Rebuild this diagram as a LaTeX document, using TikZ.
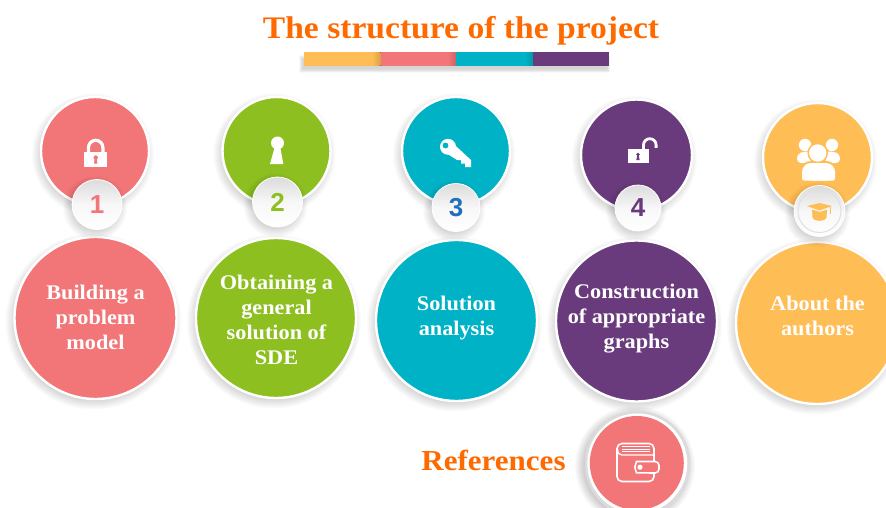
\documentclass[tikz,border=0pt]{standalone}
\usepackage{fontspec}
\setmainfont{Liberation Serif}[FakeStretch=1.07]
\newfontfamily\digitfont{Liberation Sans}
\usetikzlibrary{calc}
\definecolor{cPink}{HTML}{F27577}
\definecolor{cGreen}{HTML}{8CBF1F}
\definecolor{cTeal}{HTML}{00B2C6}
\definecolor{cPurple}{HTML}{6A3B7C}
\definecolor{cYellow}{HTML}{FFBD55}
\definecolor{cOrange}{HTML}{FF6A00}
\definecolor{cBlue}{HTML}{1F6FBB}
\tikzset{
  disc/.style={circle,draw=white,line width=2.4pt,inner sep=0pt},
  disctext/.style={inner sep=0pt,align=center,text=white,font=\fontsize{20.8}{25}\selectfont\bfseries},
  badge/.style={circle,draw=white,line width=0.8pt,inner sep=0pt,top color=black!14,bottom color=white,middle color=black!3,font=\fontsize{26}{26}\selectfont\digitfont\bfseries},
  heading/.style={text=cOrange,inner sep=0pt,font=\bfseries}
}
\newcommand{\softshadow}[3]{%
  \foreach \k in {0,...,9}{
    \fill[black,opacity=0.016] (#1-2,#2+3.5) circle ({#3+7-\k});
  }}
\newcommand{\disk}[5]{% name,x,y,r,colour
  \softshadow{#2}{#3}{#4}
  \node[disc,fill=#5,minimum size=#4*2pt] (#1) at (#2,#3) {};}
\newcommand{\smallbadge}[6]{% name,x,y,r,colour,text
  \softshadow{#2}{#3}{#4}
  \node[badge,text=#5,minimum size=#4*2pt] (#1) at (#2,#3) {#6};}
\begin{document}
\begin{tikzpicture}[x=1pt,y=-1pt]
\useasboundingbox (0,0) rectangle (886,508);
\fill[white] (0,0) rectangle (886,508);
% title
\node[heading,font=\fontsize{31.4}{31}\selectfont\bfseries] (title) at (461,31) {The structure of the project};
% bar
\foreach \k in {0,...,6}{
  \fill[black,opacity=0.025] (299+\k*0.6,55+\k*0.6) rectangle (610-\k*0.5,73-\k*0.6);
}
\fill[cYellow] (304,52.5) rectangle (380.5,66);
\fill[left color=cYellow,right color=cYellow!85!black] (372,52.5) rectangle (380.5,66);
\fill[cPink] (380.5,52.5) rectangle (456,66);
\fill[left color=cPink,right color=cPink!85!black] (448,52.5) rectangle (456,66);
\fill[cTeal] (456,52.5) rectangle (533,66);
\fill[left color=cTeal,right color=cTeal!85!black] (525,52.5) rectangle (533,66);
\fill[cPurple] (533,52.5) rectangle (608.7,66);
% upper discs
\disk{topA}{95}{151}{54}{cPink}
\disk{topB}{276.5}{151}{54}{cGreen}
\disk{topC}{456}{151}{54}{cTeal}
\disk{topD}{636.5}{155}{55.5}{cPurple}
\disk{topE}{817.5}{157.5}{54.5}{cYellow}
% lower discs
\disk{lowA}{95.5}{318}{81}{cPink}
\disk{lowB}{276}{318}{80}{cGreen}
\disk{lowC}{456.5}{320.5}{80.5}{cTeal}
\disk{lowD}{636.5}{321}{80.5}{cPurple}
\disk{lowE}{817}{323}{81}{cYellow}
\node[disctext] (txtA) at (95.5,317) {Building a\\problem\\model};
\node[disctext] (txtB) at (276.5,320) {Obtaining a\\general\\solution of\\SDE};
\node[disctext] (txtC) at (456.5,318.5) {Solution\\analysis};
\node[disctext] (txtD) at (636.5,319) {Construction\\of appropriate\\graphs};
\node[disctext] (txtE) at (817.5,315.5) {About the\\authors};
% badges
\smallbadge{numA}{97}{204.5}{25}{cPink}{1}
\smallbadge{numB}{277.5}{202}{25}{cGreen}{2}
\smallbadge{numC}{456}{207.5}{24}{cBlue}{3}
\smallbadge{numD}{638}{208}{23}{cPurple}{4}
\smallbadge{numE}{819.5}{211}{25.5}{cYellow}{}
\draw[black!12,line width=1pt] (numE) circle (21.5);
% icon 1: lock
\fill[white] (84,152) rectangle (107,167);
\draw[white,line width=3.2pt] (88.5,152) -- (88.5,147.5) arc[start angle=180,end angle=360,radius=7.2] -- (102.9,152);
\fill[cPink] (95.7,157.5) circle (2.2);
\fill[cPink] (94.8,158) -- (96.6,158) -- (97.4,163.5) -- (94,163.5) -- cycle;
% icon 2: keyhole
\fill[white] (277.5,143) circle (6.5);
\fill[white] (275,146) -- (280,146) -- (283.3,164) -- (270,164) -- cycle;
% icon 3: key
\fill[white] (448,146.8) circle (8);
\fill[white] (452,142.5) -- (471,160) -- (471,167) -- (465,167) -- (465,163.5) -- (461,163.5) -- (461,160) -- (457,160) -- (446,153) -- cycle;
\fill[cTeal] (445.5,145.5) circle (2.9);
% icon 4: open lock
\fill[white] (628,149) rectangle (649,163);
\draw[white,line width=2.8pt] (643.5,149) -- (643.5,145) arc[start angle=180,end angle=360,radius=6.3] -- (656.1,148);
\fill[cPurple] (638,154.5) circle (1.9);
\fill[cPurple] (637.3,155) -- (638.7,155) -- (639.6,160) -- (636.4,160) -- cycle;
% icon 5: people
\fill[white] (805,145) circle (6.2);
\fill[white] (832,145) circle (6.2);
\fill[white,rounded corners=4pt] (797,163) -- (797,154) -- (804,151.5) -- (812,151.5) -- (812,163) -- cycle;
\fill[white,rounded corners=4pt] (840,163) -- (840,154) -- (833,151.5) -- (825,151.5) -- (825,163) -- cycle;
\fill[cYellow] (817.7,153) circle (10.3);
\fill[cYellow,rounded corners=10pt] (800.5,161) rectangle (836.5,182);
\fill[white] (817.7,153) circle (8.7);
\fill[white,rounded corners=9pt] (802,163) rectangle (835,180.5);
\fill[white,rounded corners=2pt] (802,170) rectangle (835,180.5);
% icon 6: cap
\fill[cYellow] (807,206) -- (819.5,203) -- (832,206) -- (819.5,210.5) -- cycle;
\fill[cYellow] (812,209.5) -- (819.5,212) -- (827,209.5) -- (826.5,217) arc[start angle=0,end angle=180,x radius=7,y radius=3.8] -- cycle;
\draw[cYellow,line width=0.9pt] (830.5,206.5) -- (830.5,214);
% references
\node[heading,font=\fontsize{29}{29}\selectfont\bfseries] (refs) at (493.5,460) {References};
\foreach \k in {0,...,9}{
  \fill[black,opacity=0.02] (635,466) circle ({60-\k});
}
\node[circle,fill=black!14,inner sep=0pt,minimum size=106pt] (refOuter) at (637.5,464) {};
\node[circle,fill=white,inner sep=0pt,minimum size=100pt] (refRing) at (637.3,463.5) {};
\node[circle,fill=cPink,inner sep=0pt,minimum size=94pt] (refDisc) at (636.8,463) {};
% wallet
\draw[white,line width=1.6pt,rounded corners=5pt] (617,443.5) rectangle (654,481.5);
\foreach \yy in {446.5,449,451.5}{
  \draw[white,line width=0.8pt] (622,\yy) -- (650,\yy);
}
\draw[white,line width=1.4pt] (617.5,449) .. controls (617.5,453) and (619,455) .. (622,455) -- (653,455);
\draw[white,line width=1.6pt,fill=cPink,rounded corners=4pt] (659,461.5) -- (640.5,461.5) arc[start angle=270,end angle=90,radius=5.7] -- (659,473) -- cycle;
\fill[white] (640,467.2) circle (2.6);
\end{tikzpicture}
\end{document}
